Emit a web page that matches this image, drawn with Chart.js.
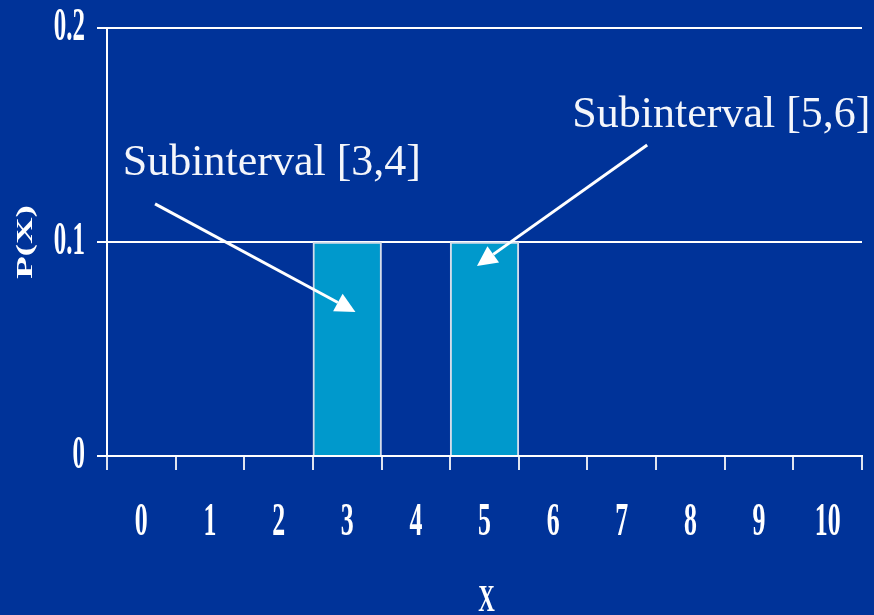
<!DOCTYPE html>
<html>
<head>
<meta charset="utf-8">
<script src="https://cdn.jsdelivr.net/npm/chart.js@4/dist/chart.umd.min.js"></script>
<style>
  html, body { margin: 0; padding: 0; background: #003399; }
  #wrap { width: 874px; height: 615px; position: relative; }
</style>
</head>
<body>
<div id="wrap"><canvas id="chart" width="874" height="615"></canvas></div>
<script>
// Outcome values of X on the horizontal axis
const categories = ['0', '1', '2', '3', '4', '5', '6', '7', '8', '9', '10'];
// Probability mass shown for the highlighted subintervals (others left empty)
const probabilities = [null, null, null, 0.1, null, 0.1, null, null, null, null, null];
// Vertical axis ticks
const yTickValues = [0, 0.1, 0.2];
const yTickLabels = ['0', '0.1', '0.2'];
// Callouts: text anchor and arrow in data units (x = category index, y = probability)
const calloutTexts = ['Subinterval [3,4]', 'Subinterval [5,6]'];
const calloutTextAt = [[-0.27, 0.1313], [6.28, 0.1537]];
const calloutArrowFrom = [[0.20, 0.1178], [7.37, 0.1453]];
const calloutArrowTo = [[3.12, 0.0673], [4.89, 0.0888]];

const BG = '#003399';
const INK = '#ffffff';

function condensedText(ctx, text, x, y, sx, align) {
  ctx.save();
  ctx.translate(x, y);
  ctx.scale(sx, 1);
  ctx.textAlign = align;
  ctx.fillText(text, 0, 0);
  ctx.restore();
}

const backdrop = {
  id: 'backdrop',
  beforeDraw(chart) {
    const ctx = chart.ctx;
    ctx.save();
    ctx.fillStyle = BG;
    ctx.fillRect(0, 0, chart.width, chart.height);
    ctx.restore();
  }
};

const axisText = {
  id: 'axisText',
  afterDraw(chart) {
    const ctx = chart.ctx;
    const xs = chart.scales.x, ys = chart.scales.y;
    ctx.save();
    ctx.fillStyle = INK;
    ctx.textBaseline = 'middle';
    ctx.font = 'bold 47px "Liberation Serif"';
    categories.forEach((lab, i) => {
      condensedText(ctx, lab, xs.getPixelForValue(i), 523, 0.55, 'center');
    });
    yTickValues.forEach((v, i) => {
      condensedText(ctx, yTickLabels[i], xs.left - 22, ys.getPixelForValue(v), 0.53, 'right');
    });
    // axis titles
    ctx.font = 'bold 37px "Liberation Serif"';
    condensedText(ctx, 'X', (xs.left + xs.right) / 2 + 2, 601, 0.62, 'center');
    ctx.save();
    ctx.translate(26, (ys.top + ys.bottom) / 2 + 0);
    ctx.rotate(-Math.PI / 2);
    ctx.font = 'bold 23px "Liberation Serif"';
    condensedText(ctx, 'P(X)', 0, 0, 1.6, 'center');
    ctx.restore();
    ctx.restore();
  }
};

const callouts = {
  id: 'callouts',
  afterDraw(chart) {
    const ctx = chart.ctx;
    const xs = chart.scales.x, ys = chart.scales.y;
    const px = p => [xs.getPixelForValue(p[0]), ys.getPixelForValue(p[1])];
    ctx.save();
    ctx.fillStyle = '#f4f6fb';
    ctx.strokeStyle = '#ffffff';
    ctx.font = '44px "Liberation Serif"';
    ctx.textAlign = 'left';
    ctx.textBaseline = 'alphabetic';
    calloutTexts.forEach((t, i) => {
      const [tx, ty] = px(calloutTextAt[i]);
      ctx.fillText(t, tx, ty);
      const [x0, y0] = px(calloutArrowFrom[i]);
      const [x1, y1] = px(calloutArrowTo[i]);
      const ang = Math.atan2(y1 - y0, x1 - x0);
      const headLen = 20, headHalf = 10;
      const bx = x1 - headLen * Math.cos(ang), by = y1 - headLen * Math.sin(ang);
      ctx.lineWidth = 3;
      ctx.beginPath();
      ctx.moveTo(x0, y0);
      ctx.lineTo(bx, by);
      ctx.stroke();
      ctx.fillStyle = '#ffffff';
      ctx.beginPath();
      ctx.moveTo(x1, y1);
      ctx.lineTo(bx + headHalf * Math.sin(ang), by - headHalf * Math.cos(ang));
      ctx.lineTo(bx - headHalf * Math.sin(ang), by + headHalf * Math.cos(ang));
      ctx.closePath();
      ctx.fill();
      ctx.fillStyle = '#f4f6fb';
    });
    ctx.restore();
  }
};

new Chart(document.getElementById('chart'), {
  type: 'bar',
  data: {
    labels: categories,
    datasets: [{
      data: probabilities,
      backgroundColor: '#0099cc',
      borderColor: '#d4dcea',
      borderWidth: 2,
      barPercentage: 1,
      categoryPercentage: 1
    }]
  },
  options: {
    responsive: false,
    animation: false,
    layout: { padding: { left: 97, right: 12, top: 28, bottom: 145 } },
    plugins: { legend: { display: false }, tooltip: { enabled: false }, title: { display: false } },
    scales: {
      x: {
        offset: true,
        grid: { offset: true, drawOnChartArea: false, drawTicks: true, tickLength: 14, color: '#dfe4ef', lineWidth: 2 },
        border: { display: true, color: '#ffffff', width: 2 },
        ticks: { display: false }
      },
      y: {
        min: 0,
        max: 0.2,
        afterBuildTicks: s => { s.ticks = yTickValues.map(v => ({ value: v })); },
        grid: { drawTicks: true, tickLength: 10, color: '#ffffff', lineWidth: 2 },
        border: { display: true, color: '#ffffff', width: 2 },
        ticks: { display: false }
      }
    }
  },
  plugins: [backdrop, axisText, callouts]
});
</script>
</body>
</html>
